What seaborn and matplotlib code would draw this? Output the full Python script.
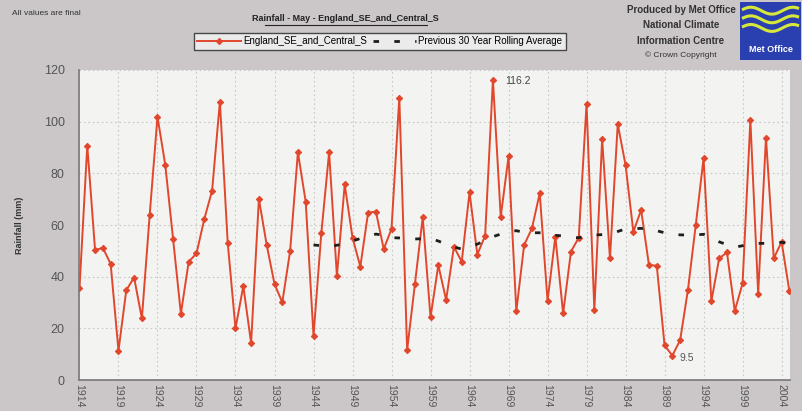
import numpy as np
import pandas as pd
import seaborn as sns
import matplotlib.pyplot as plt
from matplotlib.patches import Rectangle

# May rainfall (mm), England SE and Central S
years = list(range(1914, 2006))
rainfall = [35.5, 90.7, 50.3, 51.2, 44.9, 11.4, 34.8, 39.7, 23.9, 63.9,
            101.9, 83.2, 54.6, 25.7, 45.8, 49.0, 62.3, 73.3, 107.7, 53.2,
            20.0, 36.4, 14.4, 70.1, 52.3, 37.2, 30.1, 49.9, 88.1, 69.0,
            17.2, 56.8, 88.1, 40.3, 75.7, 55.1, 43.9, 64.8, 65.2, 50.7,
            58.5, 109.3, 11.6, 37.2, 63.0, 24.3, 44.5, 31.0, 51.6, 45.8,
            72.6, 48.6, 55.9, 116.2, 63.2, 86.5, 26.7, 52.3, 58.7, 72.3,
            30.6, 55.5, 25.8, 49.7, 55.1, 106.8, 27.1, 93.3, 47.1, 99.0,
            83.2, 57.4, 65.8, 44.5, 44.3, 13.5, 9.5, 15.5, 35.0, 60.0,
            85.8, 30.5, 47.1, 49.4, 26.8, 37.4, 100.6, 33.5, 93.8, 47.1,
            53.5, 34.5]

# previous 30 year rolling average
avg_years = list(range(1944, 2006))
rolling_avg = [52.3, 52.0, 51.6, 52.2, 52.6, 53.8, 54.8, 55.6, 56.5, 56.0,
               55.1, 55.0, 54.8, 54.6, 54.7, 54.8, 53.8, 52.6, 51.5, 50.7,
               51.6, 52.6, 54.0, 55.5, 56.5, 57.5, 57.8, 57.2, 57.0, 57.0,
               57.0, 56.0, 55.8, 55.2, 55.1, 55.6, 56.1, 56.3, 56.5, 57.5,
               58.5, 58.6, 58.7, 58.3, 57.8, 57.0, 56.4, 56.2, 56.1, 56.2,
               56.4, 55.0, 53.5, 52.4, 51.4, 52.0, 52.9, 52.9, 52.9, 53.2,
               53.3, 53.0]

xtick_years = list(range(1914, 2005, 5))
yticks = [0, 20, 40, 60, 80, 100, 120]

df = pd.DataFrame({'year': years, 'rainfall': rainfall})
avg_df = pd.DataFrame({'year': avg_years, 'avg': rolling_avg})

plt.rcParams['font.family'] = ['Liberation Sans', 'DejaVu Sans']

fig = plt.figure(figsize=(8.03, 4.11), dpi=100, facecolor='#cbc7c8')
ax = fig.add_axes([0.098, 0.075, 0.886, 0.755])
ax.set_facecolor('#f3f3f1')

red = '#e0472c'
sns.lineplot(data=df, x='year', y='rainfall', ax=ax, color=red, linewidth=1.4,
             marker='D', markersize=3.2, markeredgecolor=red, markerfacecolor=red,
             label='England_SE_and_Central_S')
sns.lineplot(data=avg_df, x='year', y='avg', ax=ax, color='#1e1e1e', linewidth=2.0,
             dashes=False, label='Previous 30 Year Rolling Average')
ax.lines[1].set_linestyle((0, (2.0, 5.5)))

ax.set_xlim(1913.9, 2005.1)
ax.set_ylim(0, 120)
ax.set_xticks(xtick_years)
ax.set_xticklabels([str(y) for y in xtick_years], rotation=-90, fontsize=7.5, color='#555555')
ax.set_yticks(yticks)
ax.set_yticklabels([str(v) for v in yticks], fontsize=9, color='#555555')
ax.tick_params(axis='y', length=0, pad=10)
ax.tick_params(axis='x', length=0, pad=3)
ax.grid(True, color='#c8c8c8', linestyle=(0, (1.5, 2.5)), linewidth=0.8)
ax.set_axisbelow(True)
ax.set_xlabel('')
ax.set_ylabel('Rainfall (mm)', fontsize=6.5, fontweight='bold', color='#333333', labelpad=14)
for s in ['top', 'right']:
    ax.spines[s].set_visible(False)
for s in ['left', 'bottom']:
    ax.spines[s].set_color('#777777')
    ax.spines[s].set_linewidth(1.2)

# data labels for max / min
ax.annotate('116.2', (1967, 116.2), xytext=(9, -3), textcoords='offset points',
            fontsize=7.5, color='#444444')
ax.annotate('9.5', (1990, 9.5), xytext=(5, -4), textcoords='offset points',
            fontsize=7.5, color='#555555')

ax.legend_.remove()
handles, labels = ax.get_legend_handles_labels()
leg = fig.legend(handles, labels, loc='center', bbox_to_anchor=(0.473, 0.900), ncol=2,
                 fontsize=7, frameon=True, fancybox=False, edgecolor='#222222',
                 handlelength=4.5, columnspacing=0.6, handletextpad=0.2,
                 borderpad=0.35)
leg.get_frame().set_facecolor('#f5f5f5')
leg.get_frame().set_linewidth(1.0)

fig.text(0.015, 0.967, 'All values are final', fontsize=6, color='#333333', va='center')
fig.text(0.43, 0.955, 'Rainfall - May - England_SE_and_Central_S', fontsize=6.5,
         fontweight='bold', color='#222222', ha='center', va='center')
fig.add_artist(plt.Line2D([0.33, 0.532], [0.938, 0.938], color='#222222', linewidth=0.8))

fig.text(0.848, 0.975, 'Produced by Met Office', fontsize=7, fontweight='bold',
         color='#333333', ha='center', va='center')
fig.text(0.848, 0.938, 'National Climate', fontsize=7, fontweight='bold',
         color='#333333', ha='center', va='center')
fig.text(0.848, 0.901, 'Information Centre', fontsize=7, fontweight='bold',
         color='#333333', ha='center', va='center')
fig.text(0.848, 0.866, '\u00a9 Crown Copyright', fontsize=6, color='#333333',
         ha='center', va='center')

# Met Office logo
logo = fig.add_axes([0.922, 0.855, 0.075, 0.14])
logo.set_xlim(0, 1)
logo.set_ylim(0, 1)
logo.axis('off')
logo.add_patch(Rectangle((0, 0), 1, 1, color='#2a3fb0'))
wx = np.linspace(0.05, 0.95, 50)
for base in [0.85, 0.70, 0.55]:
    logo.plot(wx, base + 0.06 * np.sin(wx * 9), color='#d8e83a', linewidth=2.2)
logo.text(0.5, 0.17, 'Met Office', color='white', fontsize=6.5, fontweight='bold',
          ha='center', va='center')

fig.savefig('out.png', dpi=100, facecolor=fig.get_facecolor())
